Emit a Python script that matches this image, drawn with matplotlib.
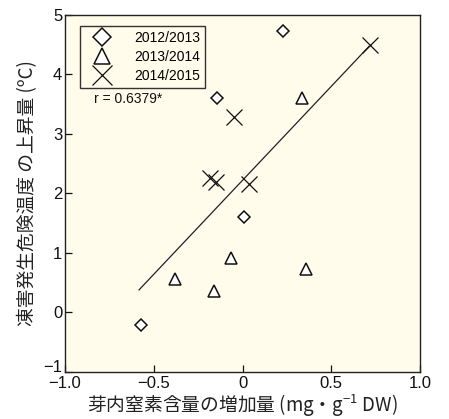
import matplotlib
matplotlib.use("Agg")
import matplotlib.pyplot as plt
import matplotlib.transforms as mtransforms
from matplotlib.lines import Line2D

plt.rcParams['font.family'] = ['Liberation Sans', 'Noto Sans CJK JP', 'DejaVu Sans']

# Data
x_2012 = [-0.144, 0.228, 0.008, -0.572]
y_2012 = [3.60, 4.73, 1.60, -0.21]
x_2013 = [0.335, -0.065, 0.357, -0.38, -0.16]
y_2013 = [3.60, 0.92, 0.73, 0.56, 0.36]
x_2014 = [-0.048, -0.183, -0.149, 0.037, 0.718]
y_2014 = [3.28, 2.26, 2.19, 2.16, 4.50]
fit_x = [-0.583, 0.712]
fit_y = [0.38, 4.47]
labels = ['2012/2013', '2013/2014', '2014/2015']
r_text = 'r = 0.6379*'
xticks = [-1.0, -0.5, 0, 0.5, 1.0]
xticklabels = ['\u22121.0', '\u22120.5', '0', '0.5', '1.0']
yticks = [-1, 0, 1, 2, 3, 4, 5]
yticklabels = ['\u22121', '0', '1', '2', '3', '4', '5']

fig = plt.figure(figsize=(4.49, 4.19), dpi=100)
ax = fig.add_axes([0.1448, 0.1122, 0.7906, 0.852])
ax.set_facecolor('#FFFCEB')

ax.plot(fit_x, fit_y, color='#222222', lw=0.9, zorder=2)
ax.plot(x_2012, y_2012, ls='none', marker='D', ms=6.5, mfc='white', mec='#111111', mew=1.1, zorder=3)
ax.plot(x_2013, y_2013, ls='none', marker='^', ms=9, mfc='white', mec='#111111', mew=1.1, zorder=3)
ax.plot(x_2014, y_2014, ls='none', marker='x', ms=11, mec='#111111', mew=0.9, zorder=3)

ax.set_xlim(-1, 1)
ax.set_ylim(-1, 5)
ax.set_xticks(xticks)
ax.set_xticklabels(xticklabels)
ax.set_yticks(yticks)
ax.set_yticklabels(yticklabels)
ax.tick_params(direction='in', length=5, width=0.9, labelsize=12, pad=2, colors='#111111')
ax.tick_params(axis='x', pad=3)
for s in ax.spines.values():
    s.set_linewidth(1.0)
    s.set_color('#222222')

# nudge the bottom y tick label up slightly, as in the reference
lab0 = ax.get_yticklabels()[0]
lab0.set_transform(lab0.get_transform() + mtransforms.ScaledTranslation(0, 4 / 72, fig.dpi_scale_trans))

ax.set_xlabel('芽内窒素含量の増加量 (mg・g$^{\\mathregular{-1}}$ DW)', fontsize=13.5, labelpad=1,
              family=['Noto Sans CJK JP', 'DejaVu Sans'], color='#222222')
ax.set_ylabel('凍害発生危険温度 の上昇量 (ºC)', fontsize=13.5, labelpad=4,
              family=['Noto Sans CJK JP', 'DejaVu Sans'], color='#222222')

handles = [
    Line2D([], [], ls='none', marker='D', ms=9, mfc='white', mec='#111111', mew=1.1),
    Line2D([], [], ls='none', marker='^', ms=12, mfc='white', mec='#111111', mew=1.1),
    Line2D([], [], ls='none', marker='x', ms=14, mec='#111111', mew=0.9),
]
leg = ax.legend(handles, labels, loc='upper left', bbox_to_anchor=(0.022, 0.99),
                fontsize=10, frameon=True, fancybox=False, edgecolor='#333333',
                facecolor='#FFFCEB', framealpha=1, handletextpad=1.1,
                labelspacing=0.35, borderpad=0.4, handlelength=2.4)
leg.get_frame().set_linewidth(1.0)

ax.text(0.082, 0.765, r_text, transform=ax.transAxes, fontsize=10, color='#111111',
        va='center', ha='left')

fig.savefig('out.png', dpi=100, facecolor='white')
